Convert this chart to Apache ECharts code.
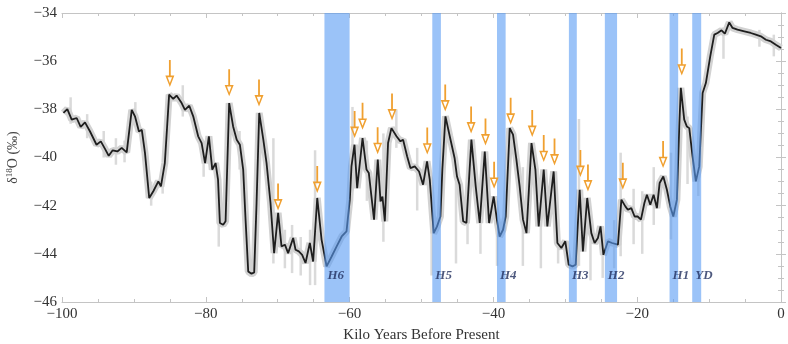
<!DOCTYPE html>
<html>
<head>
<meta charset="utf-8">
<script src="https://cdn.jsdelivr.net/npm/echarts@6/dist/echarts.min.js"></script>
<style>
  html, body { margin: 0; padding: 0; background: #fff; }
  #chart { width: 788px; height: 344px; }
</style>
</head>
<body>
<div id="chart"></div>
<script>
// age in kyr (negative = before present) and smoothed d18O record
const ageKyr = [-99.8,-99.26,-98.65,-97.96,-97.4,-96.8,-96.1,-95.2,-94.6,-94.0,-93.5,-92.95,-92.3,-91.7,-91.0,
  -90.3,-89.85,-89.3,-88.9,-88.46,-87.87,-87.3,-86.6,-86.24,-85.7,-85.1,-84.53,-84.06,-83.36,-82.9,-82.3,-81.75,
  -81.06,-80.58,-80.1,-79.57,-79.1,-78.64,-78.3,-78.04,-77.58,-77.25,-76.75,-76.2,-75.7,-75.26,-74.8,-74.47,-74.1,
  -73.64,-73.27,-72.94,-72.57,-72.0,-71.55,-71.0,-70.5,-69.94,-69.47,-69.0,-68.55,-67.85,-67.52,-67.06,-66.6,-66.13,
  -65.53,-65.07,-64.5,-63.9,-63.2,-62.5,-61.8,-61.1,-60.43,-59.97,-59.74,-59.32,-58.95,-58.2,-57.65,-57.33,-56.6,
  -56.08,-55.7,-55.43,-55.1,-54.65,-54.18,-53.48,-52.93,-52.56,-52.0,-51.54,-50.94,-50.34,-49.78,-49.23,-48.85,-48.3,
  -47.84,-47.37,-47.1,-46.67,-46.07,-45.4,-45.06,-44.7,-44.2,-43.75,-43.06,-42.46,-41.9,-41.2,-40.6,-39.96,-39.5,
  -39.13,-38.66,-38.29,-37.73,-37.27,-36.8,-36.35,-35.88,-35.4,-34.7,-34.16,-33.7,-33.0,-32.5,-31.62,-31.1,-30.55,
  -30.0,-29.53,-29.0,-28.56,-28.0,-27.55,-26.95,-26.38,-25.92,-25.46,-25.1,-24.7,-24.07,-23.5,-22.68,-22.2,-21.65,
  -21.3,-20.82,-20.36,-19.94,-19.48,-19.0,-18.65,-18.18,-17.72,-17.26,-16.88,-16.37,-15.87,-15.4,-14.98,-14.48,
  -14.15,-13.93,-13.46,-13.1,-12.76,-12.3,-11.84,-11.37,-10.9,-10.45,-9.84,-9.28,-8.82,-8.27,-7.81,-7.2,-6.74,-6.05,
  -5.1,-4.2,-3.5,-2.8,-2.1,-1.4,-0.72,0];
const d18O = [-38.15,-37.99,-38.43,-38.36,-38.73,-38.54,-38.92,-39.47,-39.33,-39.65,-39.93,-39.7,-39.75,-39.6,-39.79,
  -38.02,-38.29,-38.92,-38.85,-39.81,-41.68,-41.4,-40.99,-41.2,-40.23,-37.39,-37.57,-37.43,-37.74,-38.02,-37.85,-38.29,
  -39.12,-39.4,-40.23,-39.12,-40.5,-40.23,-40.92,-42.72,-42.79,-42.65,-37.74,-38.71,-39.26,-39.47,-40.5,-42.58,-44.73,
  -44.83,-44.77,-41.89,-38.15,-39.26,-40.23,-41.89,-43.97,-42.3,-43.69,-43.62,-43.97,-43.34,-43.83,-43.9,-44.04,-44.38,
  -43.55,-44.32,-41.68,-43.41,-44.52,-44.11,-43.69,-43.28,-43.07,-41.75,-40.37,-39.47,-41.27,-39.19,-40.5,-40.64,-42.58,
  -40.09,-41.82,-41.62,-42.65,-39.4,-38.78,-39.12,-39.33,-39.26,-39.95,-40.44,-40.37,-40.58,-41.13,-40.16,-40.92,-43.14,
  -42.86,-42.45,-40.5,-38.29,-39.12,-40.02,-40.79,-41.13,-42.65,-42.72,-39.26,-41.2,-42.72,-39.75,-42.72,-41.62,-42.6,
  -43.28,-43.0,-42.45,-38.78,-39.05,-40.09,-41.2,-42.58,-43.14,-39.4,-40.5,-42.86,-40.5,-42.86,-40.58,-43.55,-43.76,
  -43.48,-44.45,-44.52,-44.45,-41.34,-43.9,-41.68,-43.14,-43.55,-43.34,-42.86,-44.04,-43.48,-43.55,-43.62,-41.75,-42.03,
  -42.17,-42.1,-42.45,-42.45,-42.58,-41.89,-41.55,-41.96,-41.55,-42.1,-41.06,-40.79,-41.34,-42.03,-42.45,-41.75,
  -38.71,-37.11,-38.43,-38.71,-38.78,-39.95,-40.99,-40.37,-37.32,-36.91,-35.8,-34.9,-34.83,-34.72,-34.86,-34.39,-34.62,-34.69,
  -34.76,-34.83,-34.9,-34.97,-35.11,-35.18,-35.32,-35.45];

// raw-data scatter: age, low, high
const spikeAge  = [-98.8,-96.5,-94.2,-92.5,-91.3,-89.8,-87.6,-86.0,-83.2,-80.3,-78.2,-75.3,-70.6,-69.0,-68.0,-66.8,-65.5,
  -64.8,-59.6,-57.6,-55.3,-53.5,-50.6,-48.6,-45.2,-43.6,-41.8,-39.5,-35.9,-33.4,-31.0,-28.1,-26.5,-24.8,-23.2,-22.3,
  -20.5,-19.3,-17.7,-15.3,-13.0,-11.5,-8.0,-3.0,-1.0];
const spikeLow  = [-38.6,-39.2,-40.0,-40.3,-40.2,-38.6,-42.0,-41.5,-38.3,-40.8,-43.7,-40.5,-44.4,-44.6,-44.8,-44.9,-45.3,
  -45.3,-41.4,-41.8,-43.5,-39.6,-42.2,-44.9,-44.4,-43.6,-44.0,-44.5,-44.5,-44.6,-44.4,-44.5,-45.1,-45.0,-44.6,-44.1,
  -43.6,-44.0,-42.8,-43.4,-41.1,-41.6,-35.9,-35.4,-35.8];
const spikeHigh = [-37.5,-38.2,-38.9,-39.2,-39.3,-37.7,-41.0,-40.3,-37.0,-39.6,-41.5,-38.9,-39.2,-43.0,-42.8,-43.3,-43.0,
  -39.7,-37.9,-39.3,-39.0,-38.0,-39.6,-41.2,-40.3,-41.6,-41.5,-41.8,-40.4,-41.2,-42.9,-38.4,-42.2,-43.0,-42.6,-39.8,
  -41.3,-41.4,-40.4,-39.8,-38.3,-40.3,-34.6,-34.7,-34.9];

// Heinrich events / Younger Dryas
const bandLabels = ['H6','H5','H4','H3','H2','H1','YD'];
const bandStart  = [-63.5,-48.5,-39.5,-29.5,-24.5,-15.5,-12.35];
const bandEnd    = [-60.0,-47.3,-38.3,-28.4,-22.8,-14.3,-11.1];
const bandLabelY = -44.9;

// arrow tips (interstadial onsets)
const arrowAge = [-85.0,-76.75,-72.6,-69.95,-64.5,-59.3,-58.2,-56.1,-54.1,-49.2,-46.7,-43.1,-41.1,-39.9,-37.6,-34.6,
  -33.0,-31.5,-27.9,-26.85,-22.0,-16.4,-13.8];
const arrowTip = [-37.07,-37.46,-37.88,-42.2,-41.47,-39.19,-38.85,-39.86,-38.46,-39.88,-38.09,-39.0,-39.5,-41.3,-38.64,
  -39.15,-40.19,-40.33,-40.81,-41.41,-41.34,-40.44,-36.6];

const Y_MIN = -46, Y_MAX = -34;
const serif = '"Liberation Serif", "DejaVu Serif", serif';
const minus = v => String(v).replace('-', '\u2212');

const chart = echarts.init(document.getElementById('chart'));

const curve = ageKyr.map((a, i) => [a, d18O[i]]);
const spikes = spikeAge.map((a, i) => [a, spikeLow[i], spikeHigh[i]]);

const frameAxis = {
    axisLine: {show: true, lineStyle: {color: '#c4c4c4', width: 1}},
    axisTick: {show: true, inside: true, length: 5, lineStyle: {color: '#c4c4c4'}},
    minorTick: {show: true, splitNumber: 4, length: 3, lineStyle: {color: '#c4c4c4'}},
    splitLine: {show: false},
    minorSplitLine: {show: false}
};

// shaft + hollow head (inner triangle wound the other way)
const arrowPath = 'path://M3.6,0 L5.4,0 L5.4,15.5 L3.6,15.5 Z M0,15 L9,15 L4.5,26 Z M2.3,16.6 L4.5,22.2 L6.7,16.6 Z';

const option = {
    animation: false,
    backgroundColor: '#fff',
    grid: {left: 62, right: 7, top: 13, bottom: 42, outerBoundsMode: 'none'},
    xAxis: [
        Object.assign({
            type: 'value', min: -100, max: 0, interval: 20, position: 'bottom',
            axisLabel: {formatter: minus, fontFamily: serif, fontSize: 15, color: '#333', margin: 5},
            name: 'Kilo Years Before Present', nameLocation: 'middle', nameGap: 26,
            nameTextStyle: {fontFamily: serif, fontSize: 15, color: '#333'}
        }, frameAxis),
        Object.assign({
            type: 'value', min: -100, max: 0, interval: 20, position: 'top',
            axisLabel: {show: false}
        }, frameAxis)
    ],
    yAxis: [
        Object.assign({
            type: 'value', min: Y_MIN, max: Y_MAX, interval: 2, position: 'left',
            axisLabel: {formatter: minus, fontFamily: serif, fontSize: 15, color: '#333', margin: 5},
            name: '{d|\u03b4}{s|18}{d|O (\u2030)}', nameLocation: 'middle', nameGap: 40,
            nameTextStyle: {
                color: '#444',
                rich: {
                    d: {fontFamily: serif, fontSize: 14, color: '#444'},
                    s: {fontFamily: serif, fontSize: 9, color: '#444', padding: [0, 0, 8, 0]}
                }
            }
        }, frameAxis),
        Object.assign({
            type: 'value', min: Y_MIN, max: Y_MAX, interval: 2, position: 'right',
            axisLabel: {show: false}
        }, frameAxis)
    ],
    series: [
        {
            // grey raw spread
            type: 'custom', z: 1,
            data: spikes,
            renderItem: function (params, api) {
                const p1 = api.coord([api.value(0), api.value(1)]);
                const p2 = api.coord([api.value(0), api.value(2)]);
                return {
                    type: 'line',
                    shape: {x1: p1[0], y1: p1[1], x2: p2[0], y2: p2[1]},
                    style: {stroke: '#dadada', lineWidth: 2.5}
                };
            }
        },
        {
            type: 'line', z: 2, data: curve, showSymbol: false, silent: true,
            lineStyle: {color: '#d2d2d2', width: 7}
        },
        {
            type: 'line', z: 3, data: curve, showSymbol: false, silent: true,
            lineStyle: {color: '#1e1e1e', width: 1.8}
        },
        {
            // blue bands, translucent, drawn over the curve
            type: 'custom', z: 4, silent: true,
            data: bandStart.map((s, i) => [s, bandEnd[i]]),
            renderItem: function (params, api) {
                const a = api.coord([api.value(0), Y_MAX]);
                const b = api.coord([api.value(1), Y_MIN]);
                return {
                    type: 'rect',
                    shape: {x: a[0], y: a[1], width: b[0] - a[0], height: b[1] - a[1]},
                    style: {fill: 'rgba(88,155,243,0.6)'}
                };
            }
        },
        {
            type: 'scatter', z: 5, silent: true, symbolSize: 0,
            data: bandLabels.map((t, i) => [bandStart[i], bandLabelY, t]),
            label: {
                show: true, position: 'right', distance: 3,
                formatter: p => p.value[2],
                fontFamily: serif, fontStyle: 'italic', fontWeight: 'bold', fontSize: 13, color: '#1f2d5c'
            }
        },
        {
            type: 'scatter', z: 6, silent: true,
            data: arrowAge.map((a, i) => [a, arrowTip[i]]),
            symbol: arrowPath,
            symbolSize: [9, 27],
            symbolOffset: [0, '-50%'],
            itemStyle: {color: '#f0a030', opacity: 1}
        }
    ]
};

chart.setOption(option);
</script>
</body>
</html>
